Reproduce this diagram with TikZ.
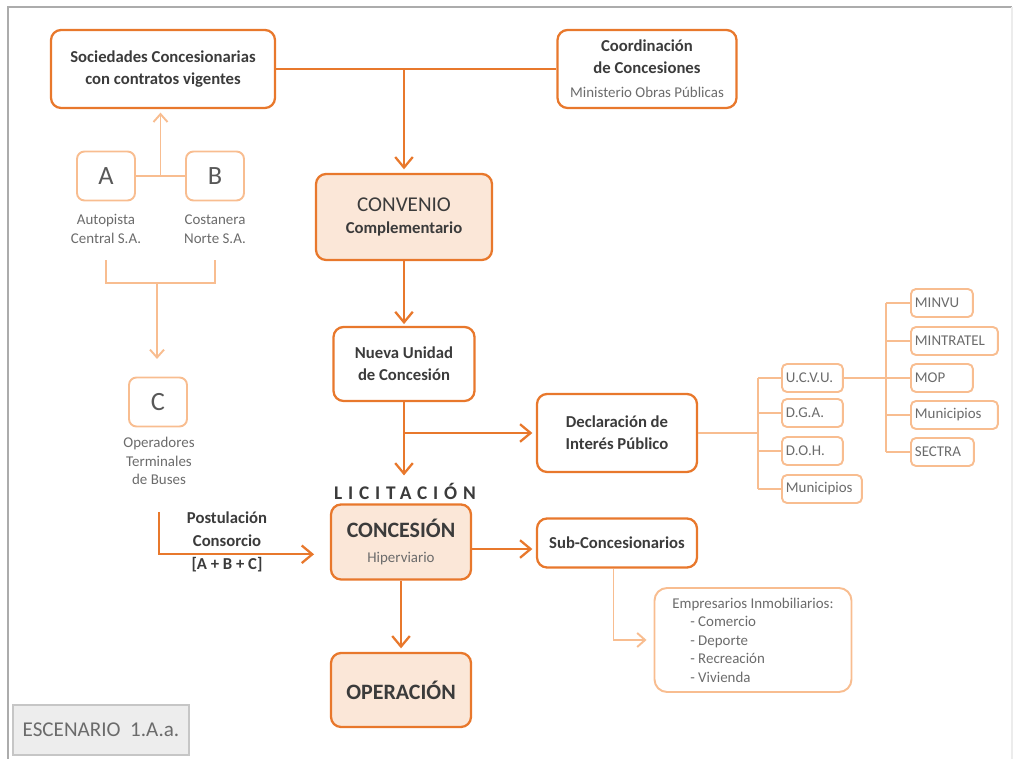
\documentclass[tikz,border=0pt]{standalone}
\usepackage{fontspec}
\setmainfont{Carlito}
\usetikzlibrary{arrows.meta, positioning, calc}
\definecolor{orangedark}{HTML}{E8782C}
\definecolor{orangelight}{HTML}{F8BD90}
\definecolor{peach}{HTML}{FBE7D8}
\definecolor{textdark}{HTML}{3B3B3B}
\definecolor{textgray}{HTML}{6B6B6B}

\begin{document}
\begin{tikzpicture}[
    x = 0.02cm, y = -0.02cm,
    box/.style = {
        rectangle, rounded corners = 0.2cm,
        draw = orangedark, line width = 1.3pt,
        align = center, text = textdark, inner sep = 2pt,
        font = \fontsize{9.5}{12.5}\selectfont\bfseries
    },
    keybox/.style  = { box, fill = peach },
    letter/.style  = {
        rectangle, rounded corners = 0.15cm,
        draw = orangelight, line width = 1.1pt,
        minimum width = 1.16cm, minimum height = 0.98cm,
        text = textdark!85, font = \fontsize{15}{15}\selectfont
    },
    tag/.style = {
        rectangle, rounded corners = 0.1cm, anchor = west,
        draw = orangelight, line width = 1.1pt,
        minimum height = 0.56cm, inner xsep = 0.08cm,
        text width = #1, align = left,
        text = textgray, font = \fontsize{8.5}{10}\selectfont
    },
    caption/.style = {
        align = center, text = textgray,
        font = \fontsize{8.5}{10.5}\selectfont
    },
    mainline/.style  = { draw = orangedark, line width = 1.3pt },
    mainarrow/.style = { mainline, -{Straight Barb[length=6pt, width=10pt]} },
    softline/.style  = { draw = orangelight, line width = 1.1pt },
    softarrow/.style = { softline, -{Straight Barb[length=4.5pt, width=8pt]} },
]
\useasboundingbox (0,0) rectangle (1015,759);

%% ── Frame ────────────────────────────────────────────────────────────────
\draw[gray!65, line width=1.2pt] (8,759) -- (8,7) -- (1012,7);
\draw[gray!15, line width=1pt] (1012,7) -- (1012,759);

%% ── Main column ──────────────────────────────────────────────────────────
\node[box, minimum width=4.48cm, minimum height=1.56cm] (soc) at (163,69)
    {Sociedades Concesionarias\\con contratos vigentes};

\node[box, minimum width=3.58cm, minimum height=1.56cm] (coord) at (647,69)
    {Coordinación\\de Concesiones\\[1pt]
     {\mdseries\color{textgray}\fontsize{8.5}{10}\selectfont Ministerio Obras Públicas}};

\node[keybox, minimum width=3.52cm, minimum height=1.72cm] (convenio) at (404,217)
    {{\mdseries\fontsize{12}{14}\selectfont CONVENIO}\\Complementario};

\node[box, minimum width=2.82cm, minimum height=1.48cm] (nueva) at (404,364)
    {Nueva Unidad\\de Concesión};

\node[font=\fontsize{11}{12}\selectfont\bfseries\addfontfeatures{LetterSpace=30},
      text=textdark, inner sep=1pt] (lic) at (405,491) {LICITACIÓN};

\node[keybox, minimum width=2.8cm, minimum height=1.5cm] (concesion) at (401,542)
    {{\fontsize{12.5}{14}\selectfont CONCESIÓN}\\[2pt]
     {\mdseries\color{textgray}\fontsize{8.5}{10}\selectfont Hiperviario}};

\node[keybox, minimum width=2.8cm, minimum height=1.48cm,
      font=\fontsize{12.5}{14}\selectfont\bfseries] (operacion) at (401,690)
    {OPERACIÓN};

\node[box, minimum width=3.2cm, minimum height=1.56cm] (decl) at (617,433)
    {Declaración de\\Interés Público};

\node[box, minimum width=3.2cm, minimum height=0.98cm] (sub) at (617,543)
    {Sub-Concesionarios};

\node[rectangle, rounded corners=0.25cm, draw=orangelight, line width=1.1pt,
      minimum width=3.94cm, minimum height=2.08cm, text=textgray,
      font=\fontsize{8.5}{10.5}\selectfont, align=left] (emp) at (753,640)
    {Empresarios Inmobiliarios:\\
     \hspace{1.2em}- Comercio\\
     \hspace{1.2em}- Deporte\\
     \hspace{1.2em}- Recreación\\
     \hspace{1.2em}- Vivienda};

%% ── Left: A, B, C ────────────────────────────────────────────────────────
\node[letter] (A) at (106,176) {A};
\node[letter] (B) at (215,176) {B};
\node[caption] (capA) at (106,229) {Autopista\\Central S.A.};
\node[caption] (capB) at (215,229) {Costanera\\Norte S.A.};
\node[letter] (C) at (158,402) {C};
\node[caption] (capC) at (159,461) {Operadores\\Terminales\\de Buses};

\node[align=center, text=textdark, font=\fontsize{9.5}{13}\selectfont\bfseries]
    (post) at (227,542) {Postulación\\Consorcio\\{}[A + B + C]};

\coordinate (abtop) at ($(A.east)!0.5!(B.west)$);
\coordinate (abjoin) at (157,283);

%% ── Tags ─────────────────────────────────────────────────────────────────
\node[tag=1.06cm] (ucvu) at (781,378) {U.C.V.U.};
\node[tag=1.06cm] (dga)  at (781,413) {D.G.A.};
\node[tag=1.06cm] (doh)  at (781,451) {D.O.H.};
\node[tag=1.44cm] (munA) at (781,489) {Municipios};

\node[tag=1.08cm] (minvu)  at (910,303) {MINVU};
\node[tag=1.58cm] (mintra) at (910,341) {MINTRATEL};
\node[tag=1.08cm] (mop)    at (910,378) {MOP};
\node[tag=1.58cm] (munB)   at (910,415) {Municipios};
\node[tag=1.10cm] (sectra) at (910,452) {SECTRA};

\coordinate (dj) at (758,433);
\coordinate (rj) at (886,378);

%% ── Escenario ────────────────────────────────────────────────────────────
\node[rectangle, draw=gray!45, fill=gray!14, line width=1pt,
      minimum width=3.52cm, minimum height=1.0cm, text=textgray,
      font=\fontsize{12}{14}\selectfont] (esc) at (101,730)
    {ESCENARIO\ \ 1.A.a.};

%% ── Strong connectors ────────────────────────────────────────────────────
\draw[mainline] (soc.east) -- (coord.west);
\draw[mainarrow] (soc.east -| convenio.north) -- ([yshift=2pt]convenio.north);
\draw[mainarrow] (convenio.south) -- ([yshift=1pt]nueva.north);
\draw[mainarrow] (nueva.south) -- ([yshift=3pt]nueva.south |- lic.north);
\draw[mainarrow] (nueva.south |- decl.west) -- ([xshift=-2pt]decl.west);
\draw[mainarrow] (concesion.south) -- ([yshift=2pt]concesion.south |- operacion.north);
\draw[mainarrow] ([yshift=-4pt]concesion.east) -- ([yshift=-4pt,xshift=-2pt]concesion.east -| sub.west);
\draw[mainarrow] ([yshift=-12pt]capC.south) |- ([yshift=-7pt,xshift=-9pt]concesion.west);

%% ── Soft connectors ──────────────────────────────────────────────────────
\draw[softline] (A.east) -- (B.west);
\draw[softarrow] (abtop) -- ([yshift=-2pt]abtop |- soc.south);
\draw[softline] ([yshift=-6pt]capA.south) |- (abjoin) -| ([yshift=-6pt]capB.south);
\draw[softarrow] (abjoin) -- ([yshift=10pt]abjoin |- C.north);

\draw[softline] (decl.east) -- (dj);
\draw[softline] (dj |- ucvu.west) -- (dj |- munA.west);
\foreach \t in {ucvu, dga, doh, munA}
    \draw[softline] (dj |- \t.west) -- (\t.west);

\draw[softline] (ucvu.east) -- (rj);
\draw[softline] (rj |- minvu.west) -- (rj |- sectra.west);
\foreach \t in {minvu, mintra, mop, munB, sectra}
    \draw[softline] (rj |- \t.west) -- (\t.west);

\draw[softarrow] ([xshift=-2pt]sub.south) |- ([xshift=-4pt]emp.west);

\end{tikzpicture}
\end{document}
